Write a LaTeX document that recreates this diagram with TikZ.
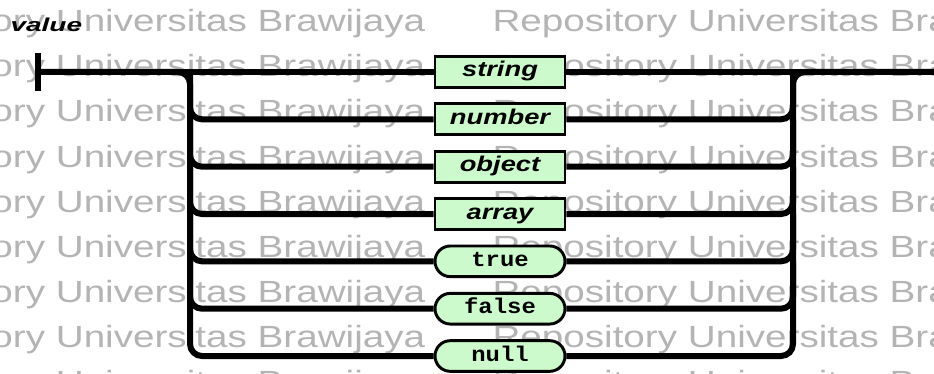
\documentclass[tikz,border=0pt]{standalone}
\usepackage{fontspec}
\setmainfont{Liberation Sans}
\newfontfamily\litfont{Liberation Mono}
\usepackage{graphicx}

\definecolor{termfill}{RGB}{204,250,204}
\definecolor{wmgray}{RGB}{180,180,180}
% glyphs in this chart are set wide
\newcommand{\wide}[2][1.28]{\scalebox{#1}[1]{#2}}

\tikzset{every picture/.style={line width=0.75pt}}
\tikzset{
  rail/.style={line width=4.5pt, rounded corners=9pt},
  termbox/.style={draw, line width=2.2pt, fill=termfill, minimum width=97.5pt, minimum height=23pt,
    inner sep=0pt, text height=11pt, text depth=3.5pt, font=\fontsize{16}{16}\selectfont\bfseries\itshape},
  litbox/.style={termbox, rounded corners=11.5pt, font=\fontsize{16}{16}\selectfont\litfont\bfseries},
  wmark/.style={text=wmgray, inner sep=0pt, anchor=base west, font=\fontsize{23}{23}\selectfont},
}

\begin{document}
\begin{tikzpicture}[x=0.75pt,y=0.75pt,yscale=-1,xscale=1]
\useasboundingbox (0,0) rectangle (934,374);

% repository stamp behind the chart
\begin{scope}
\clip (0,0) rectangle (934,374);
\foreach \r in {-1,...,8}{
  \node[wmark] (wm-\r-a) at (-140,{32+45*\r}) {\wide[1.26]{Repository Universitas Brawijaya}};
  \node[wmark] (wm-\r-b) at (492,{32+45*\r}) {\wide[1.26]{Repository Universitas Brawijaya}};
}
\end{scope}

% Text Node
\node[anchor=base west, inner sep=0pt, font=\fontsize{14}{14}\selectfont\bfseries\itshape] (title) at (10,32) {\wide[1.5]{value}};

% rail ends and split points
\coordinate (bar-top) at (38,53);
\coordinate (bar-bot) at (38,91);
\coordinate (start) at (38,72);
\coordinate (finish) at (934,72);
\coordinate (lrail) at (190,72);
\coordinate (rrail) at (793,72);

% the seven choices
\node[termbox] (s-string) at (500,72)     {\wide{string}};
\node[termbox] (s-number) at (500,119.3)  {\wide{number}};
\node[termbox] (s-object) at (500,166.7)  {\wide{object}};
\node[termbox] (s-array)  at (500,214)    {\wide{array}};
\node[litbox]  (s-true)   at (500,261.3)  {\wide[1.12]{true}};
\node[litbox]  (s-false)  at (500,308.7)  {\wide[1.12]{false}};
\node[litbox]  (s-null)   at (500,356)    {\wide[1.12]{null}};

%Straight Lines
\draw[line width=5pt] (bar-top) -- (bar-bot);
\draw[rail] (start) -- (s-string.west);
\draw[rail] (s-string.east) -- (finish);
% outer branch, top and bottom
\draw[rail] (start) -| (lrail |- s-null.west) -- (s-null.west);
\draw[rail] (s-null.east) -| (rrail) -- (finish);
% inner branches
\foreach \k/\p in {number/string, object/number, array/object, true/array, false/true}{
  \draw[rail] (lrail |- s-\p.west) |- (s-\k.west);
  \draw[rail] (s-\k.east) -| (rrail |- s-\p.east);
}

\end{tikzpicture}
\end{document}
